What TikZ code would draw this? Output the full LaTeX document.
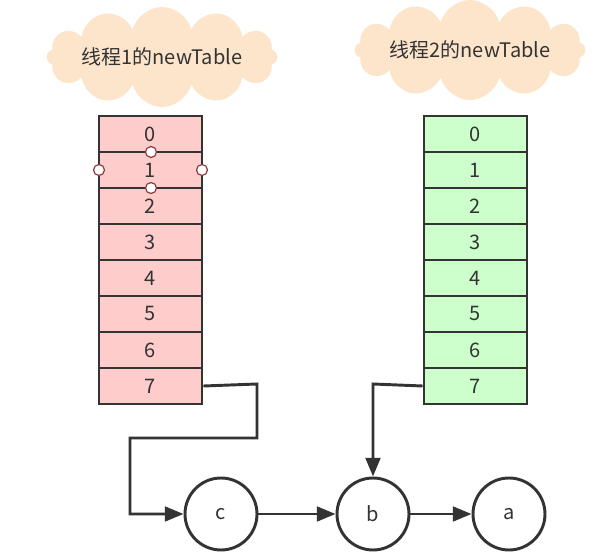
\documentclass[tikz,border=0pt]{standalone}
\usepackage{fontspec}
\setmainfont{Noto Sans CJK SC}
\usetikzlibrary{shapes.symbols,arrows.meta}
\definecolor{pinkc}{HTML}{FFCCCC}
\definecolor{greenc}{HTML}{CCFFCC}
\definecolor{peach}{HTML}{FDE5CC}
\definecolor{ink}{HTML}{333333}
\definecolor{hdl}{HTML}{8B3A3A}
\begin{document}
\begin{tikzpicture}[x=0.75pt,y=-0.75pt,
  cell/.style={draw=ink,line width=2.2pt,minimum width=103*0.75pt,minimum height=36*0.75pt,inner sep=0,font=\fontsize{15}{15}\selectfont,text=ink},
  nd/.style={circle,draw=ink,line width=2.2pt,minimum size=72*0.75pt,inner sep=0,font=\fontsize{15}{15}\selectfont,text=ink},
  cl/.style={cloud,cloud puffs=12,aspect=4,fill=peach,inner sep=0,minimum width=230*0.75pt,minimum height=62*0.75pt,font=\fontsize{15}{15}\selectfont,text=ink},
  hd/.style={circle,draw=hdl,fill=white,line width=0.9pt,minimum size=11*0.75pt,inner sep=0},
  con/.style={draw=ink,line width=2.2pt,-{Triangle[length=14pt,width=11pt]}}]
\useasboundingbox (0,0) rectangle (608,556);
\node[cl] (t1) at (162,57) {线程1的newTable};
\node[cl] (t2) at (470,50) {线程2的newTable};
\foreach \i in {0,...,7}{
  \node[cell,fill=pinkc] (L\i) at (150.5,{134+36*\i}) {\i};
  \node[cell,fill=greenc] (R\i) at (475.5,{134+36*\i}) {\i};
}
\node[hd] (h1) at (151,152) {};
\node[hd] (h2) at (99,170) {};
\node[hd] (h3) at (202,170) {};
\node[hd] (h4) at (151,188) {};
\node[nd] (c) at (221,514) {c};
\node[nd] (b) at (373,514) {b};
\node[nd] (a) at (509,514) {a};
\coordinate (p1) at (257,384);
\coordinate (p2) at (257,438);
\coordinate (p3) at (130,438);
\coordinate (p4) at (130,514);
\draw[con] (L7.east) -- (p1) -- (p2) -- (p3) -- (p4) -- (c.west);
\coordinate (q1) at (373,384);
\draw[con] (R7.west) -- (q1) -- (b.north);
\draw[con] (c) -- (b);
\draw[con] (b) -- (a);
\end{tikzpicture}
\end{document}
